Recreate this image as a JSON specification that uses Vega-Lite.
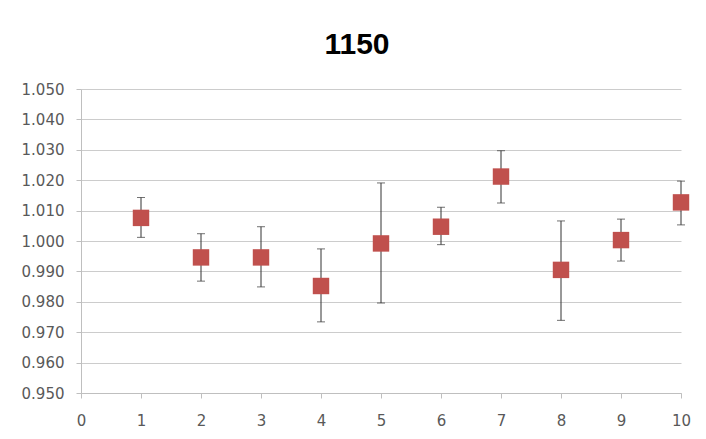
{
  "$schema": "https://vega.github.io/schema/vega-lite/v6.json",
  "width": 600,
  "height": 304,
  "autosize": {"type": "none"},
  "padding": {"left": 81, "top": 89, "right": 25, "bottom": 46},
  "background": "white",
  "title": {
    "text": "1150",
    "fontSize": 30,
    "font": "Liberation Sans",
    "fontWeight": "bold",
    "color": "#000000",
    "anchor": "middle",
    "dx": -24,
    "offset": 22
  },
  "data": {
    "values": [
      {"x": 1, "y": 1.0076, "lo": 1.0012, "hi": 1.0143},
      {"x": 2, "y": 0.9946, "lo": 0.9868, "hi": 1.0024},
      {"x": 3, "y": 0.9946, "lo": 0.9849, "hi": 1.0047},
      {"x": 4, "y": 0.9852, "lo": 0.9734, "hi": 0.9974},
      {"x": 5, "y": 0.9992, "lo": 0.9796, "hi": 1.0191},
      {"x": 6, "y": 1.0047, "lo": 0.9988, "hi": 1.0111},
      {"x": 7, "y": 1.0212, "lo": 1.0125, "hi": 1.0297},
      {"x": 8, "y": 0.9905, "lo": 0.9739, "hi": 1.0066},
      {"x": 9, "y": 1.0003, "lo": 0.9934, "hi": 1.0072},
      {"x": 10, "y": 1.0127, "lo": 1.0053, "hi": 1.0197}
    ]
  },
  "config": {
    "view": {"stroke": null},
    "axis": {
      "labelFont": "DejaVu Sans",
      "labelFontSize": 15,
      "labelColor": "#595959",
      "domainColor": "#bfbfbf",
      "tickColor": "#bfbfbf",
      "gridColor": "#cccccc",
      "tickSize": 5,
      "labelOverlap": false,
      "labelFlush": false,
      "title": null
    }
  },
  "encoding": {
    "x": {
      "field": "x",
      "type": "quantitative",
      "scale": {"domain": [0, 10], "nice": false, "zero": false},
      "axis": {"values": [0,1,2,3,4,5,6,7,8,9,10], "grid": false, "labelPadding": 15, "title": null}
    }
  },
  "layer": [
    {
      "mark": {"type": "rule", "color": "#333333", "strokeWidth": 1},
      "encoding": {
        "y": {
          "field": "lo",
          "type": "quantitative",
          "scale": {"domain": [0.95, 1.05], "nice": false, "zero": false},
          "axis": {"values": [0.95,0.96,0.97,0.98,0.99,1.0,1.01,1.02,1.03,1.04,1.05], "format": ".3f", "labelPadding": 12, "title": null}
        },
        "y2": {"field": "hi"}
      }
    },
    {
      "mark": {"type": "tick", "orient": "horizontal", "color": "#333333", "size": 8, "thickness": 1},
      "encoding": {
        "y": {
          "field": "lo",
          "type": "quantitative",
          "scale": {"domain": [0.95, 1.05], "nice": false, "zero": false},
          "axis": {"values": [0.95,0.96,0.97,0.98,0.99,1.0,1.01,1.02,1.03,1.04,1.05], "format": ".3f", "labelPadding": 12, "title": null}
        }
      }
    },
    {
      "mark": {"type": "tick", "orient": "horizontal", "color": "#333333", "size": 8, "thickness": 1},
      "encoding": {
        "y": {
          "field": "hi",
          "type": "quantitative",
          "scale": {"domain": [0.95, 1.05], "nice": false, "zero": false},
          "axis": {"values": [0.95,0.96,0.97,0.98,0.99,1.0,1.01,1.02,1.03,1.04,1.05], "format": ".3f", "labelPadding": 12, "title": null}
        }
      }
    },
    {
      "mark": {"type": "square", "size": 270, "color": "#c0504d", "opacity": 1, "filled": true},
      "encoding": {
        "y": {
          "field": "y",
          "type": "quantitative",
          "scale": {"domain": [0.95, 1.05], "nice": false, "zero": false},
          "axis": {"values": [0.95,0.96,0.97,0.98,0.99,1.0,1.01,1.02,1.03,1.04,1.05], "format": ".3f", "labelPadding": 12, "title": null}
        }
      }
    }
  ]
}
